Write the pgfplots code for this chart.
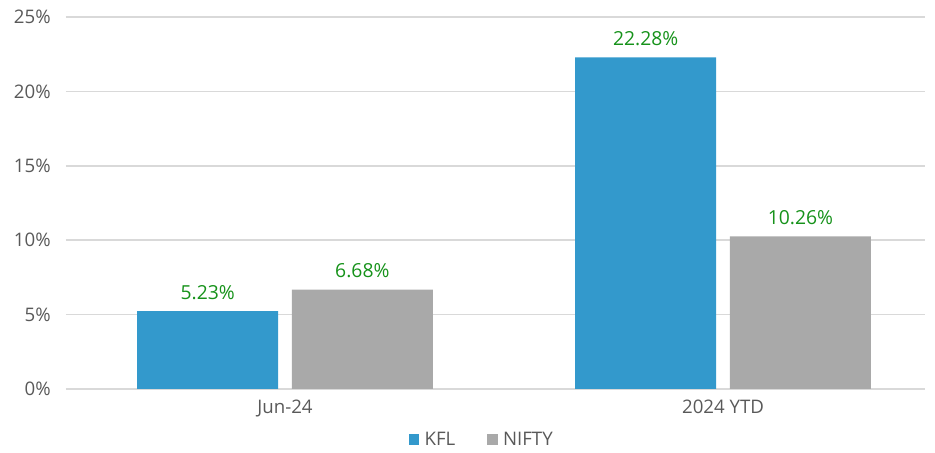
\documentclass[border=0pt]{standalone}
\usepackage{pgfplots}
\pgfplotsset{compat=1.18}
\usepackage{fontspec}
\setmainfont{Open Sans}
\definecolor{kfl}{HTML}{3399CC}
\definecolor{nifty}{HTML}{A9A9A9}
\definecolor{lbl}{HTML}{16921A}
\definecolor{txt}{HTML}{595959}
\definecolor{grd}{HTML}{D9D9D9}
\begin{document}
\begin{tikzpicture}
\useasboundingbox (-49.5pt,-48pt) rectangle (651.75pt,291.75pt);
\begin{axis}[
  at={(0,0)}, anchor=south west,
  scale only axis, width=644.25pt, height=279pt,
  xmin=-0.5, xmax=1.461, ymin=0, ymax=25,
  xtick={0,1}, xticklabels={Jun-24,2024 YTD},
  ytick={0,5,10,15,20,25},
  yticklabel={\pgfmathprintnumber{\tick}\%},
  /pgf/number format/assume math mode=true,
  ymajorgrids, grid style={grd, line width=1.1pt},
  axis x line*=bottom, axis y line*=left,
  x axis line style={grd, line width=1.1pt, -},
  y axis line style={draw=none},
  major tick length=0pt,
  tick label style={font=\fontsize{14}{16}\selectfont, text=txt},
  yticklabel style={xshift=-8pt},
  xticklabel style={yshift=-5pt},
  ybar, bar width=105.75pt,
  nodes near coords={\pgfmathprintnumber[fixed,fixed zerofill,precision=2]{\pgfplotspointmeta}\%},
  nodes near coords style={font=\fontsize{14.5}{16}\selectfont, text=lbl, anchor=south, yshift=5pt},
  legend style={at={(0.486,-38.25pt)}, anchor=center, draw=none, legend columns=2,
    font=\fontsize{14}{16}\selectfont, text=txt,
    /tikz/every even column/.append style={column sep=20pt},
    nodes={inner xsep=4pt}},
  legend image code/.code={\fill[#1] (0pt,-3.6pt) rectangle (7.8pt,4.2pt);},
]
\addplot[fill=kfl, draw=none, bar shift=-58pt] coordinates {(0,5.23) (1,22.28)};
\addplot[fill=nifty, draw=none, bar shift=58pt] coordinates {(0,6.68) (1,10.26)};
\legend{KFL,NIFTY}
\end{axis}
\end{tikzpicture}
\end{document}
